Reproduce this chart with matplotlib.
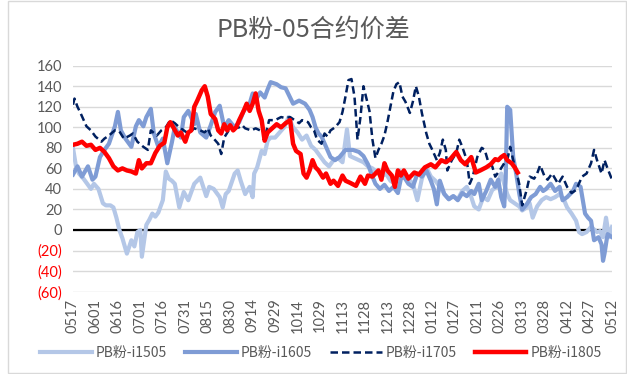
import matplotlib
matplotlib.use("Agg")
import matplotlib.pyplot as plt
import numpy as np

plt.rcParams['font.family'] = ['Noto Sans CJK SC', 'DejaVu Sans']

# x axis: days since 05-17, one label every 15 days
xtick_labels = ['0517', '0601', '0616', '0701', '0716', '0731', '0815', '0830',
                '0914', '0929', '1014', '1029', '1113', '1128', '1213', '1228',
                '0112', '0127', '0211', '0226', '0313', '0328', '0412', '0427', '0512']
ytick_values = [-60, -40, -20, 0, 20, 40, 60, 80, 100, 120, 140, 160]
ytick_labels = ['(60)', '(40)', '(20)', '0', '20', '40', '60', '80', '100', '120', '140', '160']

days_1505 = [0, 2, 4, 7, 10, 12, 14, 17, 20, 22, 25, 27, 29, 31, 33, 36, 39, 41, 43, 45,
             46, 49, 51, 53, 55, 57, 60, 62, 64, 66, 68, 71, 74, 77, 81, 85, 89, 91, 94, 98,
             100, 102, 104, 108, 110, 112, 115, 118, 120, 121, 123, 126, 128, 130, 132, 135,
             138, 141, 144, 147, 150, 153, 156, 159, 162, 165, 168, 171, 174, 177, 180, 183,
             185, 188, 191, 194, 197, 200, 203, 206, 209, 212, 215, 218, 221, 224, 227, 230,
             233, 236, 239, 242, 245, 248, 251, 254, 257, 260, 263, 266, 268, 271, 274, 277,
             280, 283, 286, 288, 290, 292, 295, 298, 300, 303, 305, 307, 310, 313, 316, 319,
             322, 325, 328, 330, 333, 336, 338, 340, 343, 346, 350, 352, 354, 356, 358, 360]
vals_1505 = [80, 62, 55, 50, 44, 40, 45, 40, 26, 24, 24, 22, 12, 0, -8, -23, -10, -16, -2, 0,
             -26, 5, 10, 16, 13, 17, 29, 57, 50, 48, 45, 22, 37, 29, 45, 51, 33, 42, 40, 32,
             22, 35, 38, 55, 58, 48, 35, 42, 32, 55, 61, 77, 74, 87, 90, 90,
             95, 100, 110, 100, 95, 88, 92, 82, 78, 72, 66, 62, 68, 70, 66, 98,
             72, 70, 68, 66, 62, 60, 56, 52, 55, 48, 45, 58, 51, 50, 45, 29,
             50, 61, 52, 48, 42, 35, 30, 33, 30, 38, 42, 32, 23, 20, 32, 29,
             39, 42, 55, 45, 35, 29, 26, 23, 19, 22, 26, 12, 23, 29, 32, 30,
             32, 35, 29, 22, 16, 9, -2, -4, -2, 3, -2, -1, -7, 12, -7, 3]

days_1605 = [0, 3, 6, 10, 13, 15, 18, 21, 24, 28, 30, 32, 35, 39, 42, 44, 47, 49, 52, 54,
             57, 60, 63, 66, 68, 70, 72, 74, 77, 81, 82, 85, 89, 92, 95, 98, 101, 104, 108, 111,
             114, 118, 120, 123, 125, 128, 130, 132, 136, 139, 142, 147, 151, 155, 158, 160,
             162, 164, 166, 169, 172, 175, 178, 182, 187, 191, 194, 197, 200, 202, 205, 208,
             211, 214, 217, 219, 221, 224, 227, 230, 233, 236, 239, 241, 243, 245, 248, 251,
             254, 257, 260, 263, 266, 268, 271, 273, 276, 279, 282, 284, 286, 288, 289, 290,
             292, 294, 296, 298, 300, 303, 306, 309, 312, 314, 316, 319, 322, 325, 327, 330,
             332, 334, 336, 339, 342, 344, 346, 348, 351, 353, 354, 355, 357, 360]
vals_1605 = [54, 62, 52, 62, 49, 52, 71, 78, 84, 101, 115, 97, 89, 81, 101, 107, 101, 110, 118, 94,
             81, 89, 65, 85, 100, 95, 90, 110, 116, 103, 113, 95, 90, 102, 115, 121, 100, 107, 100, 105,
             116, 123, 133, 129, 134, 129, 137, 144, 142, 139, 138, 123, 126, 123, 117, 110,
             100, 94, 91, 81, 71, 68, 71, 78, 78, 76, 72, 64, 52, 45, 40, 44,
             38, 42, 36, 50, 52, 45, 42, 55, 52, 58, 48, 40, 25, 48, 35, 30,
             33, 29, 36, 33, 38, 35, 45, 29, 38, 49, 42, 49, 32, 23, 50, 120,
             117, 71, 55, 36, 20, 25, 32, 35, 42, 38, 40, 45, 38, 42, 29, 32,
             35, 38, 45, 42, 16, 12, 9, -10, -7, -14, -30, -23, -4, -7]

days_1705 = [0, 1, 3, 5, 9, 12, 15, 19, 21, 24, 28, 31, 34, 38, 40, 43, 47, 50, 52, 56,
             59, 62, 65, 68, 71, 74, 77, 81, 85, 88, 90, 92, 94, 97, 99, 101, 104, 108, 111, 113,
             115, 119, 122, 125, 129, 131, 135, 139, 142, 145, 148, 151, 153, 157, 159, 161,
             163, 166, 168, 170, 172, 175, 178, 180, 182, 184, 186, 188, 189, 190, 192, 194,
             196, 198, 200, 202, 204, 206, 208, 210, 212, 214, 216, 218, 220, 222, 225, 227,
             229, 231, 233, 236, 238, 240, 243, 245, 247, 249, 250, 253, 256, 258, 260, 263,
             265, 267, 270, 273, 275, 277, 280, 282, 285, 288, 290, 292, 294, 296, 298, 300,
             303, 305, 308, 310, 312, 315, 317, 320, 322, 324, 327, 330, 333, 336, 340, 343,
             346, 348, 350, 353, 355, 357, 360]
vals_1705 = [122, 128, 120, 114, 101, 97, 91, 86, 89, 92, 97, 96, 89, 92, 94, 86, 81, 78, 97, 92,
             97, 100, 107, 104, 100, 97, 94, 99, 97, 95, 99, 92, 89, 84, 74, 90, 97, 99, 100, 102,
             99, 97, 99, 97, 95, 107, 107, 110, 109, 110, 107, 104, 107, 105, 100, 97,
             88, 84, 94, 91, 97, 100, 105, 115, 130, 146, 147, 130, 110, 88, 110, 140,
             128, 116, 88, 70, 78, 84, 92, 105, 120, 135, 142, 144, 130, 125, 114, 125,
             140, 130, 114, 94, 84, 78, 68, 75, 88, 78, 58, 68, 75, 88, 81, 68,
             45, 52, 71, 80, 78, 68, 62, 52, 58, 65, 68, 81, 68, 58, 45, 24,
             39, 52, 50, 55, 63, 52, 49, 55, 50, 45, 52, 42, 36, 39, 52, 55,
             65, 78, 68, 55, 68, 60, 49]

days_1805 = [0, 3, 6, 9, 12, 15, 18, 21, 24, 27, 30, 33, 36, 39, 42, 44, 46, 49, 52, 55,
             58, 61, 63, 65, 67, 70, 72, 75, 77, 79, 81, 83, 86, 88, 90, 92, 95, 97, 99, 101,
             103, 105, 107, 109, 111, 114, 116, 118, 120, 122, 124, 126, 128, 130, 133, 136,
             139, 142, 145, 147, 149, 152, 154, 156, 158, 160, 162, 164, 167, 169, 172, 174,
             177, 180, 182, 185, 189, 192, 195, 197, 200, 204, 206, 208, 210, 213, 215, 217,
             219, 221, 224, 228, 231, 235, 239, 242, 246, 249, 252, 256, 259, 262, 266, 269,
             272, 276, 279, 282, 284, 286, 288, 290, 293, 295, 297]
vals_1805 = [83, 84, 86, 82, 83, 78, 80, 76, 70, 62, 58, 60, 58, 57, 55, 68, 60, 65, 65, 75,
             82, 85, 100, 105, 100, 92, 95, 86, 95, 97, 120, 126, 136, 140, 130, 113, 108, 97, 94, 103,
             97, 102, 97, 100, 107, 116, 123, 116, 123, 133, 116, 107, 87, 95, 99, 103,
             100, 104, 107, 84, 77, 74, 55, 51, 58, 68, 61, 58, 51, 55, 45, 48,
             43, 53, 48, 46, 43, 52, 45, 53, 52, 58, 49, 65, 58, 53, 42, 58,
             53, 58, 50, 56, 54, 61, 64, 61, 68, 66, 69, 76, 68, 64, 71, 56,
             58, 61, 64, 69, 68, 71, 73, 68, 65, 61, 56]

fig = plt.figure(figsize=(6.27, 3.74), dpi=100)
ax = fig.add_axes([0.1164, 0.2203, 0.8597, 0.6040])

ax.plot(days_1505, vals_1505, color='#b4c7e7', lw=3.0, solid_joinstyle='round', zorder=3,
        label='PB粉-i1505')
ax.plot(days_1605, vals_1605, color='#7f9cd5', lw=3.0, solid_joinstyle='round', zorder=4,
        label='PB粉-i1605')
ax.plot(days_1705, vals_1705, color='#002060', lw=1.8, dashes=(3, 1.6), zorder=5,
        label='PB粉-i1705')
ax.plot(days_1805, vals_1805, color='#ff0000', lw=3.2, solid_joinstyle='round', zorder=6,
        label='PB粉-i1805')

ax.axhline(0, color='black', lw=1.6, zorder=2)

ax.set_xlim(0, 360)
ax.set_ylim(-60, 160)
ax.set_xticks(np.arange(len(xtick_labels)) * 15)
ax.set_xticklabels(xtick_labels, rotation=90, family=['Lato', 'DejaVu Sans'],
                   fontsize=10.5, color='#595959')
ax.set_yticks(ytick_values)
ax.set_yticklabels(ytick_labels, family=['Lato', 'DejaVu Sans'], fontsize=10.5)
for lab, v in zip(ax.get_yticklabels(), ytick_values):
    lab.set_color('#ff0000' if v < 0 else '#595959')

ax.tick_params(axis='both', length=0)
ax.tick_params(axis='y', pad=8)
ax.tick_params(axis='x', pad=5)
ax.grid(axis='y', color='#d9d9d9', lw=1.0, zorder=0)
for s in ax.spines.values():
    s.set_visible(False)

fig.text(0.5, 1 - 30 / 374, 'PB粉-05合约价差', ha='center', va='center',
         fontsize=18, color='#595959')

handles, labels = ax.get_legend_handles_labels()
fig.legend(handles, labels, loc='center', bbox_to_anchor=(0.512, 1 - 353 / 374), ncol=4,
           frameon=False, fontsize=10, handlelength=3.7, columnspacing=1.3,
           handletextpad=0.3, labelcolor='#595959')

# light grey chart frame
frame = plt.Rectangle((8 / 627, 1 / 374), 618 / 627, 372 / 374, transform=fig.transFigure,
                      fill=False, edgecolor='#d9d9d9', lw=1.0)
fig.patches.append(frame)

fig.savefig('out.png', dpi=100)
